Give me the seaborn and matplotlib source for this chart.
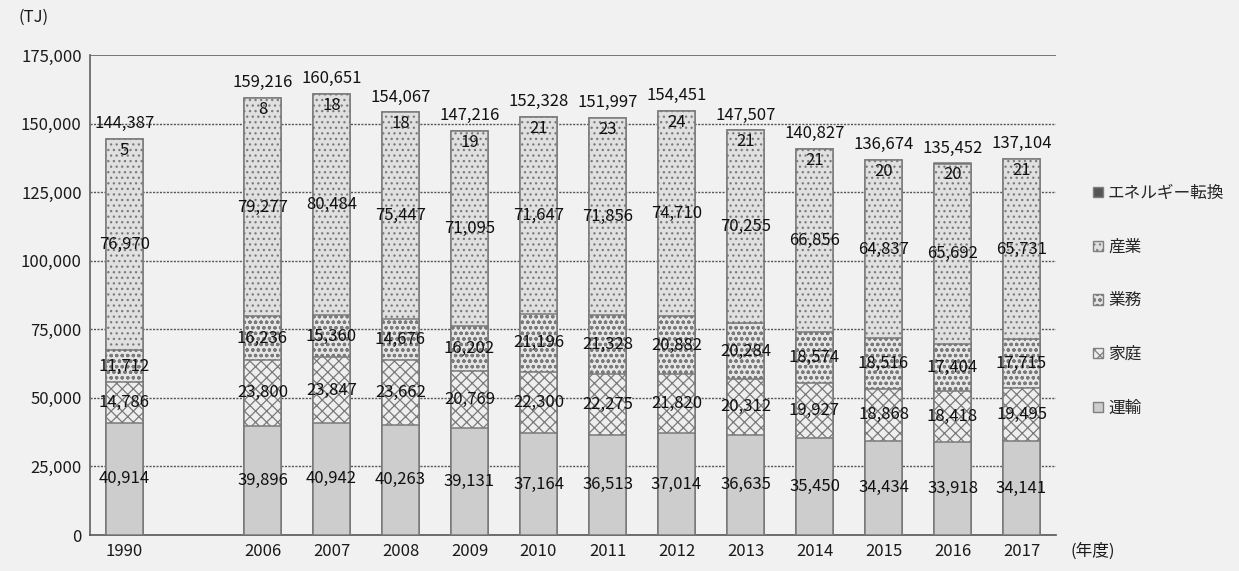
import numpy as np
import pandas as pd
import matplotlib
matplotlib.use("Agg")
import matplotlib.pyplot as plt
from matplotlib.patches import Patch
import seaborn as sns

years = ["1990", "2006", "2007", "2008", "2009", "2010", "2011", "2012",
         "2013", "2014", "2015", "2016", "2017"]
transport = [40914, 39896, 40942, 40263, 39131, 37164, 36513, 37014, 36635, 35450, 34434, 33918, 34141]
household = [14786, 23800, 23847, 23662, 20769, 22300, 22275, 21820, 20312, 19927, 18868, 18418, 19495]
business = [11712, 16236, 15360, 14676, 16202, 21196, 21328, 20882, 20284, 18574, 18516, 17404, 17715]
industry = [76970, 79277, 80484, 75447, 71095, 71647, 71856, 74710, 70255, 66856, 64837, 65692, 65731]
energy = [5, 8, 18, 18, 19, 21, 23, 24, 21, 21, 20, 20, 21]
totals = [144387, 159216, 160651, 154067, 147216, 152328, 151997, 154451, 147507, 140827, 136674, 135452, 137104]

series_names = ["運輸", "家庭", "業務", "産業", "エネルギー転換"]
series_vals = [transport, household, business, industry, energy]

order = ["1990", " "] + years[1:]

sns.set_theme(style="white")
plt.rcParams["font.family"] = ["Noto Sans CJK JP", "DejaVu Sans"]
plt.rcParams["hatch.color"] = "#8a8a8a"
plt.rcParams["hatch.linewidth"] = 0.9

bg = "#f1f1f1"
fig = plt.figure(figsize=(12.39, 5.71), dpi=100, facecolor=bg)
ax = fig.add_axes([90/1239, 1-535/571, (1056-90)/1239, (535-55)/571])
ax.set_facecolor(bg)

styles = {
    "運輸": dict(color="#cdcdcd", hatch=None),
    "家庭": dict(color="#eeeeee", hatch="xxx"),
    "業務": dict(color="#e6e6e6", hatch="ooo"),
    "産業": dict(color="#e0e0e0", hatch="..."),
    "エネルギー転換": dict(color="#555555", hatch=None),
}

arr = np.array(series_vals, dtype=float)
cum = np.cumsum(arr, axis=0)

# draw from top layer down so lower layers overlay
for i in range(len(series_names) - 1, -1, -1):
    name = series_names[i]
    df = pd.DataFrame({"year": years, "value": cum[i]})
    st = styles[name]
    sns.barplot(data=df, x="year", y="value", order=order, color=st["color"],
                saturation=1, width=0.53, edgecolor="#7a7a7a", linewidth=1.1,
                hatch=st["hatch"], ax=ax, errorbar=None, zorder=3)

ax.set_xlim(-0.5, len(order) - 0.5)
ax.set_ylim(0, 175000)
ax.set_yticks(np.arange(0, 175001, 25000))
ax.set_yticklabels([f"{v:,}" for v in range(0, 175001, 25000)], fontsize=12, color="#1a1a1a")
ax.set_xticklabels(order, fontsize=12, color="#1a1a1a")
ax.tick_params(axis="x", length=0, pad=6)
ax.tick_params(axis="y", length=0, pad=6)
ax.set_xticks(np.arange(0.5, len(order) - 0.5, 1), minor=True)
ax.tick_params(axis="x", which="minor", length=4, color="#666666", direction="in")
ax.set_xlabel("")
ax.set_ylabel("")

for y in range(25000, 175000, 25000):
    ax.axhline(y, color="#555555", lw=1.0, ls=(0, (1.5, 1.0)), zorder=1)
ax.axhline(175000, color="#555555", lw=1.1, zorder=1)
for s in ["top", "right"]:
    ax.spines[s].set_visible(False)
ax.spines["left"].set_color("#666666")
ax.spines["left"].set_linestyle((0, (1.5, 1.0)))
ax.spines["bottom"].set_color("#555555")
ax.spines["bottom"].set_linewidth(1.2)

xpos = {y: order.index(y) for y in years}
for j, yr in enumerate(years):
    x = xpos[yr]
    bottom = 0
    for i, name in enumerate(series_names[:4]):
        v = series_vals[i][j]
        ax.text(x, bottom + v / 2, f"{v:,}", ha="center", va="center",
                fontsize=12, color="#111111", zorder=5)
        bottom += v
    ax.annotate(f"{energy[j]}", (x, totals[j]), xytext=(0, -2), textcoords="offset points",
                ha="center", va="top", fontsize=12, color="#111111", zorder=5)
    ax.annotate(f"{totals[j]:,}", (x, totals[j]), xytext=(0, 5), textcoords="offset points",
                ha="center", va="bottom", fontsize=12, color="#111111", zorder=5)

handles = [Patch(facecolor=styles[n]["color"], edgecolor="#7f7f7f",
                 hatch=styles[n]["hatch"], label=n) for n in series_names[::-1]]
leg = fig.legend(handles=handles, loc="upper left", bbox_to_anchor=(1078/1239, 1-170/571),
                 frameon=False, fontsize=12, handlelength=0.6, handleheight=0.6,
                 handletextpad=0.3, labelspacing=2.2)

fig.text(18/1239, 1-17/571, "(TJ)", fontsize=12, va="center", ha="left", color="#1a1a1a")
fig.text(1070/1239, 1-551/571, "(年度)", fontsize=12, va="center", ha="left", color="#1a1a1a")

fig.savefig("out.png", dpi=100, facecolor=bg)
